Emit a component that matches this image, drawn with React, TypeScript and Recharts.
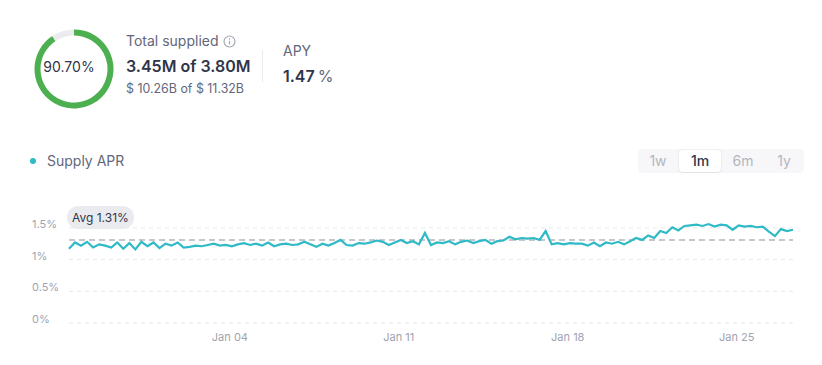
import React from "react";
import { LineChart, Line, XAxis, YAxis, ReferenceLine, PieChart, Pie, Cell } from "recharts";

const FONT = "Inter, 'Noto Sans', Arial, sans-serif";

// Utilisation ring
const supplyShare = [
  { name: "supplied", value: 90.7 },
  { name: "remaining", value: 9.3 },
];

// Supply APR series (%), one point every 6 hours from Dec 28 08:00 to Jan 27 08:00
const aprValues = [
  1.17, 1.27, 1.22, 1.28, 1.19, 1.24, 1.22, 1.19, 1.27, 1.17,
  1.26, 1.16, 1.28, 1.21, 1.27, 1.18, 1.25, 1.22, 1.27, 1.19,
  1.20, 1.22, 1.21, 1.23, 1.25, 1.22, 1.23, 1.21, 1.24, 1.26,
  1.23, 1.25, 1.22, 1.27, 1.21, 1.24, 1.25, 1.23, 1.24, 1.28,
  1.24, 1.20, 1.25, 1.22, 1.26, 1.31, 1.23, 1.22, 1.26, 1.25,
  1.27, 1.30, 1.28, 1.23, 1.27, 1.31, 1.26, 1.29, 1.24, 1.42,
  1.23, 1.27, 1.26, 1.29, 1.24, 1.28, 1.30, 1.26, 1.29, 1.31,
  1.25, 1.29, 1.30, 1.36, 1.32, 1.34, 1.33, 1.34, 1.31, 1.45,
  1.24, 1.26, 1.24, 1.26, 1.25, 1.25, 1.22, 1.27, 1.21, 1.27,
  1.25, 1.28, 1.24, 1.29, 1.34, 1.31, 1.38, 1.34, 1.45, 1.42,
  1.51, 1.46, 1.53, 1.54, 1.55, 1.53, 1.56, 1.52, 1.55, 1.54,
  1.47, 1.54, 1.52, 1.53, 1.51, 1.52, 1.44, 1.37, 1.48, 1.45,
  1.47,
];
const startTime = Date.UTC(2024, 11, 28, 8);
const stepMs = 6 * 3600 * 1000;

const xTickTimes = [Date.UTC(2025, 0, 4), Date.UTC(2025, 0, 11), Date.UTC(2025, 0, 18), Date.UTC(2025, 0, 25)];
const xTickLabels = ["Jan 04", "Jan 11", "Jan 18", "Jan 25"];
const yTicks = [0, 0.5, 1, 1.5];
const yTickLabels = ["0%", "0.5%", "1%", "1.5%"];
const avgApr = 1.31;
const periods = ["1w", "1m", "6m", "1y"];
const selectedPeriod = "1m";

const data = aprValues.map((v, i) => ({ t: startTime + i * stepMs, apr: v }));

const YTick = (props: any) => {
  const { y, payload } = props;
  const idx = yTicks.indexOf(payload.value);
  return (
    <text x={32} y={y - 3} fill="#a0a3b0" fontSize={11} fontFamily={FONT} textAnchor="start" dominantBaseline="middle">
      {yTickLabels[idx]}
    </text>
  );
};

const XTick = (props: any) => {
  const { x, y, payload } = props;
  const idx = xTickTimes.indexOf(payload.value);
  return (
    <text x={x} y={y + 7} fill="#a0a3b0" fontSize={11} fontFamily={FONT} textAnchor="middle" dominantBaseline="middle">
      {xTickLabels[idx]}
    </text>
  );
};

const abs = (left: number, top: number, extra: React.CSSProperties = {}): React.CSSProperties => ({
  position: "absolute",
  left,
  top,
  whiteSpace: "nowrap",
  ...extra,
});

export default function App() {
  return (
    <div style={{ position: "absolute", left: 0, top: 0, width: 822, height: 365, background: "#fff", fontFamily: FONT, overflow: "hidden" }}>
      {/* Donut */}
      <div style={abs(24, 19)}>
        <PieChart width={90} height={90}>
          <Pie
            data={supplyShare}
            dataKey="value"
            cx={45}
            cy={45}
            innerRadius={33.5}
            outerRadius={39.5}
            startAngle={90}
            endAngle={-270}
            stroke="none"
            isAnimationActive={false}
          >
            <Cell fill="#4caf50" />
            <Cell fill="#ececee" />
          </Pie>
        </PieChart>
      </div>
      <div style={abs(24, 58, { width: 90, textAlign: "center", fontSize: 14, lineHeight: "18px", color: "#303549" })}>90.70%</div>

      {/* Total supplied */}
      <div style={abs(126, 33, { fontSize: 14, lineHeight: "16px", color: "#62677b", display: "flex", alignItems: "center" })}>
        Total supplied
        <svg width={13} height={13} style={{ marginLeft: 4 }} viewBox="0 0 13 13">
          <circle cx={6.5} cy={6.5} r={5.5} fill="none" stroke="#a0a3b0" strokeWidth={1.1} />
          <line x1={6.5} y1={5.8} x2={6.5} y2={9.5} stroke="#a0a3b0" strokeWidth={1.2} />
          <circle cx={6.5} cy={4} r={0.75} fill="#a0a3b0" />
        </svg>
      </div>
      <div style={abs(126, 56, { fontSize: 16, lineHeight: "20px", fontWeight: 600, color: "#303549" })}>3.45M of 3.80M</div>
      <div style={abs(126, 81, { fontSize: 12.4, lineHeight: "16px", color: "#62677b" })}>$ 10.26B of $ 11.32B</div>

      <div style={abs(262, 50, { width: 1, height: 32, background: "#eaebef" })} />

      <div style={abs(283, 43, { fontSize: 14, lineHeight: "16px", color: "#62677b" })}>APY</div>
      <div style={abs(283, 66, { fontSize: 16, lineHeight: "20px", color: "#303549" })}>
        <span style={{ fontWeight: 600 }}>1.47</span>
        <span style={{ marginLeft: 3, color: "#62677b" }}>%</span>
      </div>

      {/* Legend */}
      <div style={abs(30, 158, { width: 6, height: 6, borderRadius: 3, background: "#2ebac6" })} />
      <div style={abs(47, 152, { fontSize: 14, lineHeight: "18px", color: "#62677b" })}>Supply APR</div>

      {/* Period toggle */}
      <div style={abs(638, 149, { width: 166, height: 24, borderRadius: 4, background: "#f7f7f9" })} />
      {periods.map((p, i) => {
        const centers = [658, 700, 743, 784];
        const sel = p === selectedPeriod;
        return (
          <div
            key={p}
            style={abs(centers[i] - 21, 150, {
              width: 42,
              height: 22,
              lineHeight: "22px",
              textAlign: "center",
              fontSize: 14,
              borderRadius: 4,
              color: sel ? "#303549" : "#b4b6c0",
              fontWeight: sel ? 500 : 400,
              background: sel ? "#fff" : "transparent",
              boxShadow: sel ? "0 0 2px rgba(0,0,0,0.12), 0 1px 1px rgba(0,0,0,0.05)" : "none",
            })}
          >
            {p}
          </div>
        );
      })}

      {/* Line chart */}
      <div style={abs(0, 0)}>
        <LineChart width={822} height={365} data={data} margin={{ top: 212, right: 29, bottom: 12, left: 32 }}>
          <XAxis
            dataKey="t"
            type="number"
            domain={["dataMin", "dataMax"]}
            ticks={xTickTimes}
            tick={<XTick />}
            axisLine={false}
            tickLine={false}
            height={30}
          />
          <YAxis domain={[0, 1.75]} ticks={yTicks} tick={<YTick />} axisLine={false} tickLine={false} width={37} />
          {yTicks.map((v) => (
            <ReferenceLine key={v} y={v} stroke="#e6e7ea" strokeDasharray="4 4" />
          ))}
          <ReferenceLine y={avgApr} stroke="#c6c7cd" strokeWidth={2} strokeDasharray="6 4" />
          <Line type="linear" dataKey="apr" stroke="#2ebac6" strokeWidth={2.2} dot={false} isAnimationActive={false} />
        </LineChart>
      </div>

      {/* Avg pill */}
      <div style={abs(67, 206, { height: 23, lineHeight: "23px", padding: "0 5px", borderRadius: 12, background: "#eaebef", fontSize: 12, color: "#303549" })}>
        Avg 1.31%
      </div>
    </div>
  );
}
